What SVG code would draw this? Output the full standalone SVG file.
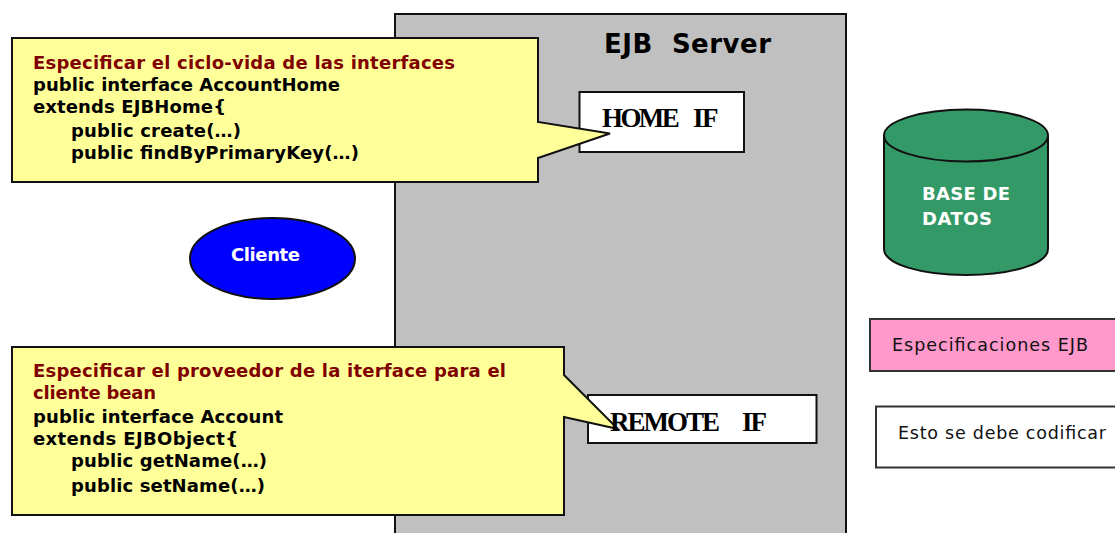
<svg xmlns="http://www.w3.org/2000/svg" width="1115" height="533" viewBox="0 0 1115 533">
<style>
text{font-family:"DejaVu Sans",Verdana,sans-serif}
.s{stroke:#111;stroke-width:2}
.c{fill:#ffff99}
.b{font-size:18px;font-weight:700;fill:#000}
.r{font-size:18px;font-weight:700;fill:#800000}
.t{font-family:"Liberation Serif","Times New Roman",serif;font-size:27px;font-weight:700;fill:#000}
.w{font-size:18px;font-weight:700;fill:#fff}
.n{font-size:17.500px;fill:#111}
</style>
<rect width="1115" height="533" fill="#fff"/>
<g id="server">
<rect class="s" x="395" y="14" width="451" height="530" fill="#c0c0c0"/>
<text x="604" y="53" font-size="26" font-weight="700" fill="#000" textLength="167" lengthAdjust="spacing" xml:space="preserve">EJB  Server</text>
</g>
<g id="home-if">
<rect class="s" x="579.500" y="92" width="164.500" height="60" fill="#fff"/>
<text class="t" y="127"><tspan x="602" letter-spacing="-2.600">HOME</tspan><tspan x="693" letter-spacing="-1.500">IF</tspan></text>
</g>
<g id="remote-if">
<rect class="s" x="588" y="395" width="228.500" height="48" fill="#fff"/>
</g>
<g id="callout-home">
<polygon class="s c" points="12,38 538,38 538,122 610,133.500 538,158 538,182 12,182"/>
<text class="r" x="33" y="69" textLength="422" lengthAdjust="spacing">Especificar el ciclo-vida de las interfaces</text>
<text class="b" x="33" y="91" textLength="307" lengthAdjust="spacing">public interface AccountHome</text>
<text class="b" x="33" y="113" textLength="193" lengthAdjust="spacing">extends EJBHome{</text>
<text class="b" x="71" y="137" textLength="170" lengthAdjust="spacing">public create(…)</text>
<text class="b" x="71" y="159" textLength="288" lengthAdjust="spacing">public findByPrimaryKey(…)</text>
</g>
<g id="callout-remote">
<polygon class="s c" points="12,347 564,347 564,375 618,429 564,417 564,515 12,515"/>
<text class="r" x="33" y="377" textLength="473" lengthAdjust="spacing">Especificar el proveedor de la iterface para el</text>
<text class="r" x="33" y="399" textLength="123" lengthAdjust="spacing">cliente bean</text>
<text class="b" x="33" y="423" textLength="250" lengthAdjust="spacing">public interface Account</text>
<text class="b" x="33" y="445" textLength="205" lengthAdjust="spacing">extends EJBObject{</text>
<text class="b" x="71" y="467" textLength="196" lengthAdjust="spacing">public getName(…)</text>
<text class="b" x="71" y="492" textLength="194" lengthAdjust="spacing">public setName(…)</text>
</g>
<g id="remote-if-label">
<text class="t" y="431"><tspan x="610" letter-spacing="-2">REMOTE</tspan><tspan x="742" letter-spacing="-2">IF</tspan></text>
</g>
<g id="cliente">
<ellipse class="s" cx="272.500" cy="258.500" rx="82.500" ry="40.500" fill="#0000ff"/>
<text class="w" x="231" y="261" textLength="69" lengthAdjust="spacing">Cliente</text>
</g>
<g id="base-de-datos">
<path class="s" d="M884 136V249C884 264 921 275 966 275S1048 264 1048 249V136" fill="#339966"/>
<ellipse class="s" cx="966" cy="135.500" rx="82" ry="26" fill="#339966"/>
<text class="w" x="922" y="200" textLength="88" lengthAdjust="spacing">BASE DE</text>
<text class="w" x="922" y="225" textLength="70" lengthAdjust="spacing">DATOS</text>
</g>
<g id="especificaciones">
<rect x="870" y="319" width="260" height="52" fill="#ff99cc" stroke="#333" stroke-width="2"/>
<text class="n" x="892" y="351" textLength="196" lengthAdjust="spacing">Especificaciones EJB</text>
</g>
<g id="codificar">
<rect x="876" y="406.500" width="260" height="61" fill="#fff" stroke="#333" stroke-width="2"/>
<text class="n" x="898" y="439" textLength="208" lengthAdjust="spacing">Esto se debe codificar</text>
</g>
<g id="connectors"/>
</svg>
